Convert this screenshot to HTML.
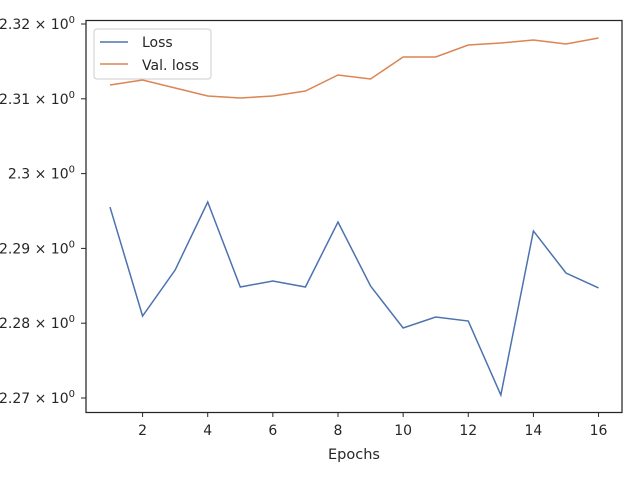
<!DOCTYPE html>
<html><head><meta charset="utf-8"><style>
body{margin:0;background:#fff;}
svg text{font-family:"DejaVu Sans","Liberation Sans",sans-serif;fill:#262626;}
</style></head><body>
<svg id="chart" width="640" height="480" xmlns="http://www.w3.org/2000/svg">
<rect x="0" y="0" width="640" height="480" fill="#fff"/>
<g id="ticks"></g>
<g id="lines"></g>
<rect x="86" y="20.5" width="536" height="392" fill="none" stroke="#262626" stroke-width="1.25"/>
<text x="354" y="459" font-size="14.5" text-anchor="middle">Epochs</text>
<g>
<rect x="94" y="29" width="117" height="50" rx="3" fill="#fff" stroke="#ccc" stroke-width="1"/>
<line x1="100" y1="42" x2="128" y2="42" stroke="#4c72b0" stroke-width="1.5"/>
<text x="142" y="47" font-size="14">Loss</text>
<line x1="100" y1="64" x2="128" y2="64" stroke="#dd8452" stroke-width="1.5"/>
<text x="142" y="70" font-size="14">Val. loss</text>
</g>
</svg>
<script>
const epochs=[1,2,3,4,5,6,7,8,9,10,11,12,13,14,15,16];
const loss=[2.29553,2.28096,2.28711,2.2962,2.28484,2.28564,2.28484,2.29353,2.28497,2.27936,2.28083,2.28029,2.2704,2.29233,2.28671,2.28471];
const valLoss=[2.31184,2.31251,2.31144,2.31037,2.31011,2.31037,2.31104,2.31318,2.31265,2.31559,2.31559,2.31719,2.31746,2.31786,2.31733,2.31813];
const xTicks=[2,4,6,8,10,12,14,16];
const yTicks=["2.27","2.28","2.29","2.3","2.31","2.32"];
const NS="http://www.w3.org/2000/svg";
function xs(v){return 110+(v-1)*32.57;}
function ys(v){return 398-(v-2.27)*7480;}
const tg=document.getElementById('ticks');
xTicks.forEach(t=>{
 const l=document.createElementNS(NS,'line');
 l.setAttribute('x1',xs(t));l.setAttribute('x2',xs(t));l.setAttribute('y1',412);l.setAttribute('y2',417);
 l.setAttribute('stroke','#262626');
 
 
 tg.appendChild(l);
 const tx=document.createElementNS(NS,'text');
 tx.setAttribute('x',xs(t));tx.setAttribute('y',435);tx.setAttribute('font-size','14');tx.setAttribute('text-anchor','middle');
 tx.textContent=t;
 
 
 tg.appendChild(tx);
});
yTicks.forEach(t=>{
 const y=ys(parseFloat(t));
 const l=document.createElementNS(NS,'line');
 l.setAttribute('x1',81);l.setAttribute('x2',86);l.setAttribute('y1',y);l.setAttribute('y2',y);
 l.setAttribute('stroke','#262626');
 
 
 tg.appendChild(l);
 const tx=document.createElementNS(NS,'text');
 tx.setAttribute('x',75);tx.setAttribute('y',y+5);tx.setAttribute('font-size','14');tx.setAttribute('text-anchor','end');
 tx.innerHTML=t+' × 10<tspan font-size="10" dy="-6">0</tspan>';
 
 
 tg.appendChild(tx);
});
const lg=document.getElementById('lines');
function draw(data,color,name){
 const p=document.createElementNS(NS,'polyline');
 p.setAttribute('points',data.map((v,i)=>xs(epochs[i])+','+ys(v)).join(' '));
 p.setAttribute('fill','none');p.setAttribute('stroke',color);p.setAttribute('stroke-width','1.5');
 
 
 lg.appendChild(p);
}
draw(loss,'#4c72b0','loss-line');
draw(valLoss,'#dd8452','val-loss-line');
</script>
</body></html>
